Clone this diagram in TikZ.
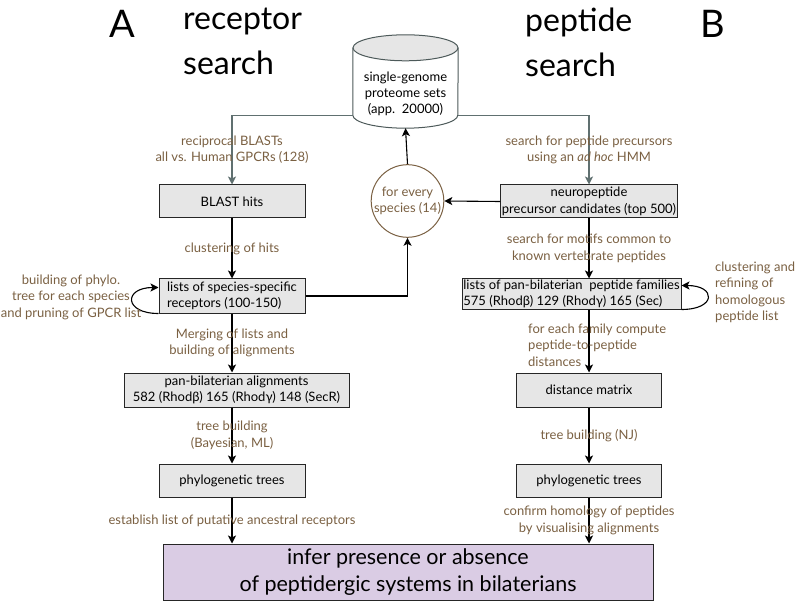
\documentclass[tikz,border=0pt]{standalone}
\usepackage{fontspec}
\setmainfont{Lato}
\usetikzlibrary{arrows.meta}

\definecolor{lblbrown}{RGB}{122,96,66}
\definecolor{linegray}{RGB}{96,112,112}
\definecolor{boxgray}{RGB}{230,230,230}
\definecolor{inferlilac}{RGB}{218,204,228}

\begin{document}
\begin{tikzpicture}[x=1pt,y=-1pt,
	box_node/.style={rectangle,draw=black!85,fill=boxgray,line width=1pt,inner sep=1pt,align=center,font=\fontsize{13}{16.5}\selectfont},
	lbl_node/.style={text=lblbrown,align=center,font=\fontsize{13}{16.5}\selectfont,inner sep=0pt},
	head_node/.style={font=\fontsize{32}{45}\selectfont,align=left,inner sep=0pt},
	letter_node/.style={font=\fontsize{38}{40}\selectfont,inner sep=0pt},
	cyl_line/.style={draw=linegray!80!black,line width=1pt},
	arr/.style={-{Stealth[length=8pt,width=8pt,inset=2pt]},line width=1.1pt}]
	\useasboundingbox (0,0) rectangle (802,601);

	% headings
	\node[letter_node,anchor=base] (A) at (122,38) {A};
	\node[letter_node,anchor=base] (B) at (713,38) {B};
	\node[head_node,anchor=north west] (rec) at (183,8) {receptor\\search};
	\node[head_node,anchor=north west] (pep) at (525,8) {peptide\\search};

	% proteome sets (drawn as a drum) and species loop
	\node[minimum width=105,minimum height=93,inner sep=0pt] (genomes) at (405.5,81.5) {};
	\path[cyl_line,fill=white] ([yshift=-13pt]genomes.north west) -- ([yshift=13pt]genomes.south west)
		arc[start angle=180,end angle=0,x radius=52.5,y radius=13] -- ([yshift=-13pt]genomes.north east);
	\path[cyl_line,fill=boxgray] ([yshift=-13pt]genomes.north) ellipse[x radius=52.5,y radius=13];
	\node[align=center,font=\fontsize{13}{16}\selectfont,inner sep=0pt] (genomestext) at (405.5,94) {single-genome\\proteome sets\\(app.\ \ 20000)};
	\node[circle,draw=lblbrown,line width=1pt,minimum size=72,lbl_node] (every) at (407.5,201) {for every\\species (14)};

	% receptor search
	\node[box_node,minimum width=146,minimum height=33] (blast) at (232,201.5) {BLAST hits};
	\node[box_node,minimum width=146,minimum height=34,align=left] (species) at (232,296) {lists of species-specific\\receptors (100-150)};
	\node[box_node,minimum width=225,minimum height=34] (pan) at (236.5,390) {pan-bilaterian alignments\\582 (Rhodβ) 165 (Rhodγ) 148 (SecR)};
	\node[box_node,minimum width=146,minimum height=33] (treesA) at (232,480.5) {phylogenetic trees};

	% peptide search
	\node[box_node,minimum width=174,minimum height=33] (neuro) at (589,201.5) {neuropeptide\\precursor candidates (top 500)};
	\node[box_node,minimum width=219,minimum height=30,align=left,inner sep=0.5pt] (families) at (571.5,294) {lists of pan-bilaterian\ \ peptide families\\575 (Rhodβ) 129 (Rhodγ) 165 (Sec)};
	\node[box_node,minimum width=145,minimum height=34] (distance) at (589,390) {distance matrix};
	\node[box_node,minimum width=145,minimum height=33] (treesB) at (589,480.5) {phylogenetic trees};

	\node[box_node,fill=inferlilac,minimum width=490,minimum height=56,font=\fontsize{21.5}{27}\selectfont] (infer) at (408,572) {infer presence or absence\\of peptidergic systems in bilaterians};

	% gray searches from the proteome sets
	\draw[arr,linegray] ([yshift=13pt]genomes.south west) -| node[pos=.75,lbl_node] {reciprocal BLASTs\\all vs. Human GPCRs (128)} (blast.north);
	\draw[arr,linegray] ([yshift=13pt]genomes.south east) -| node[pos=.75,lbl_node] {search for peptide precursors\\using an \textit{ad hoc} HMM} (neuro.north);

	\draw[arr] (every.north) -- (genomes.south);
	\draw[arr] (neuro.west) -- (every.east);
	\draw[arr] (species.east) -| (every.south);

	\draw[arr] (blast.south) -- node[lbl_node] {clustering of hits} (species.north);
	\draw[arr,line width=1.6pt] (species.south) -- node[lbl_node] {Merging of lists and\\building of alignments} (species.south |- pan.north);
	\draw[arr] (treesA.north |- pan.south) -- node[lbl_node] {tree building\\(Bayesian, ML)} (treesA.north);
	\draw[arr] (treesA.south) -- node[lbl_node] {establish list of putative ancestral receptors} (treesA.south |- infer.north);

	\draw[arr] (neuro.south) -- node[lbl_node] {search for motifs common to\\known vertebrate peptides} (neuro.south |- families.north);
	\draw[arr] (distance.north |- families.south) -- (distance.north);
	\node[lbl_node,align=left,anchor=west] (compute) at (528,345) {for each family compute\\peptide-to-peptide\\distances};
	\draw[arr] (distance.south) -- node[lbl_node] {tree building (NJ)} (treesB.north);
	\draw[arr] (treesB.south) -- node[lbl_node] {confirm homology of peptides\\by visualising alignments} (treesB.south |- infer.north);

	% self loops
	\draw[arr] (species.south west) .. controls +(-35,0) and +(-35,0) .. ([yshift=-9pt]species.north west);
	\node[lbl_node] (phylo) at (71,297) {building of phylo.\\tree for each species\\and pruning of GPCR list};
	\draw[arr] (families.south east) .. controls +(35,0) and +(35,0) .. ([yshift=-7pt]families.north east);
	\node[lbl_node,align=left,anchor=west] (refine) at (715,292.5) {clustering and\\refining of\\homologous\\peptide list};
\end{tikzpicture}
\end{document}
